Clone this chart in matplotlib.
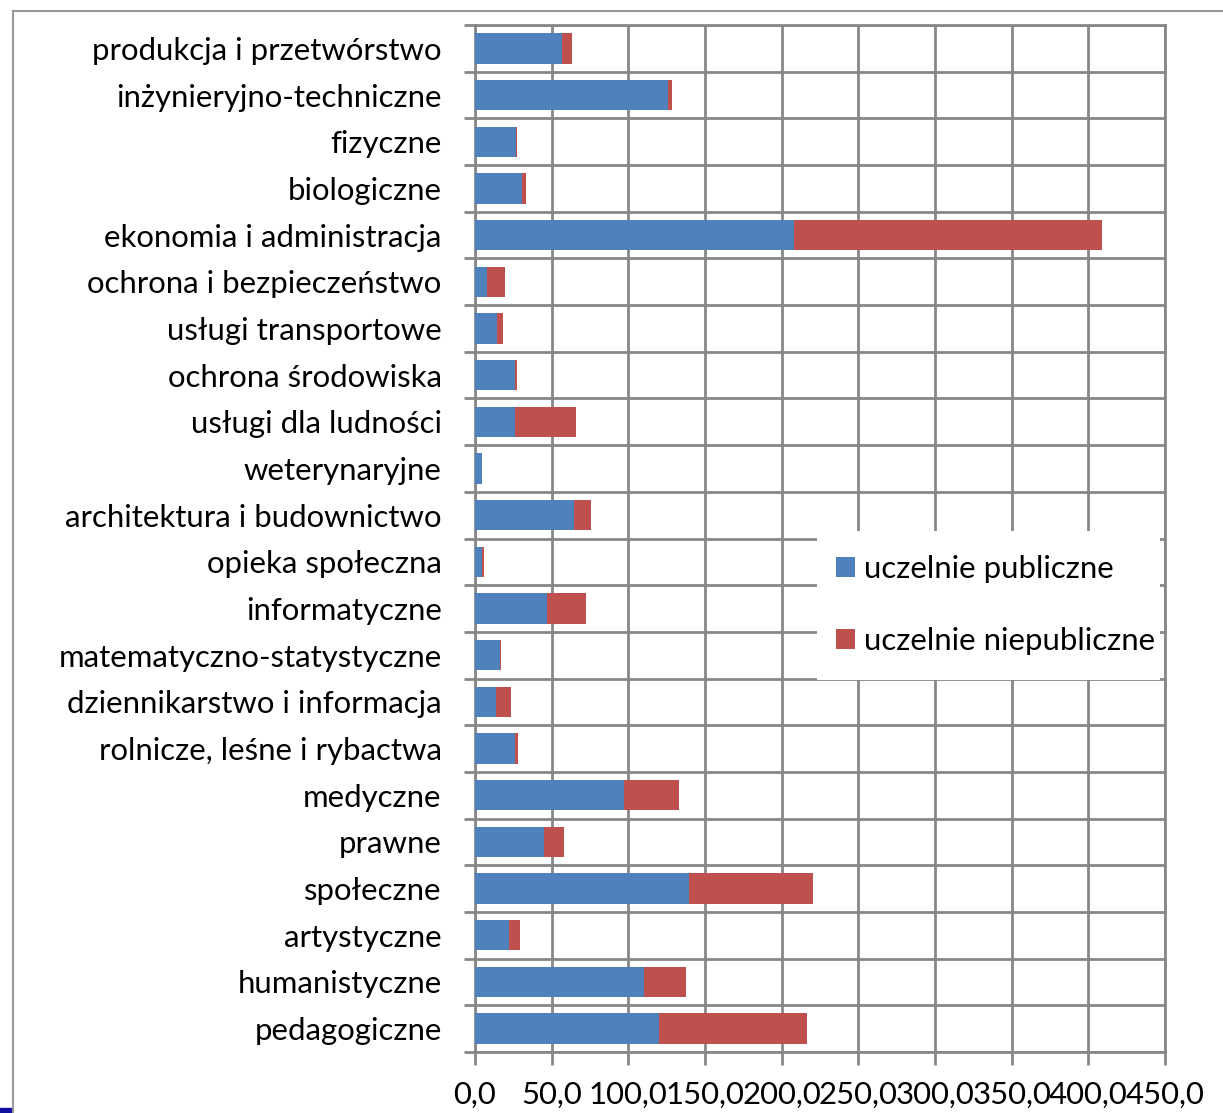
import numpy as np
import matplotlib.pyplot as plt
from matplotlib.lines import Line2D
from matplotlib.patches import Rectangle

plt.rcParams['font.family'] = ['Lato', 'DejaVu Sans']

categories = ['produkcja i przetwórstwo', 'inżynieryjno-techniczne', 'fizyczne',
              'biologiczne', 'ekonomia i administracja', 'ochrona i bezpieczeństwo',
              'usługi transportowe', 'ochrona środowiska', 'usługi dla ludności',
              'weterynaryjne', 'architektura i budownictwo', 'opieka społeczna',
              'informatyczne', 'matematyczno-statystyczne', 'dziennikarstwo i informacja',
              'rolnicze, leśne i rybactwa', 'medyczne', 'prawne', 'społeczne',
              'artystyczne', 'humanistyczne', 'pedagogiczne']
public = [56.7, 125.9, 26.5, 30.4, 207.8, 7.8, 14.6, 26.1, 26.3, 4.6, 64.8, 4.3,
          47.2, 16.5, 13.9, 26.3, 96.9, 45.2, 139.4, 22.4, 110.0, 119.8]
private = [6.6, 2.3, 0.6, 3.0, 200.9, 11.6, 3.9, 1.1, 39.8, 0.0, 11.1, 1.4,
           25.4, 0.3, 9.6, 1.5, 36.2, 12.9, 81.3, 7.0, 27.4, 97.0]
xticks = np.arange(0, 451, 50)
series_names = ['uczelnie publiczne', 'uczelnie niepubliczne']

blue = '#4F81BD'
red = '#C0504D'
grid_c = '#878787'
fs = 22.4

fig = plt.figure(figsize=(12.23, 11.13), dpi=100)
ax = fig.add_axes([475 / 1223, 1 - 1052 / 1113, 690 / 1223, 1027 / 1113])

y = np.arange(len(categories))
ax.barh(y, public, height=0.65, color=blue, label=series_names[0], zorder=3)
ax.barh(y, private, left=public, height=0.65, color=red, label=series_names[1], zorder=3)

ax.set_ylim(len(categories) - 0.5, -0.5)
ax.set_xlim(0, 450)
ax.set_yticks(y)
ax.set_yticklabels(categories, fontsize=fs)
ax.set_yticks(np.arange(-0.5, len(categories), 1), minor=True)
ax.tick_params(axis='y', which='major', length=0, pad=24)
ax.tick_params(axis='y', which='minor', length=8, width=2, color=grid_c)
ax.grid(axis='y', which='minor', color=grid_c, lw=2, zorder=1)

ax.set_xticks(xticks)
ax.set_xticklabels([f'{v:.1f}'.replace('.', ',') for v in xticks], fontsize=fs)
ax.tick_params(axis='x', length=9, width=2, color=grid_c, pad=12)
ax.grid(axis='x', which='major', color=grid_c, lw=2, zorder=1)

for s in ax.spines.values():
    s.set_color(grid_c)
    s.set_linewidth(2)

# white legend area that hides the grid
ax.add_patch(Rectangle((0.4957, 0.3622), 0.4971, 0.1451, transform=ax.transAxes,
                       facecolor='white', edgecolor='none', zorder=4))
leg = ax.legend(loc='upper left', bbox_to_anchor=((836 - 475) / 690, (1052 - 555) / 1027),
                fontsize=fs, frameon=False,
                handlelength=0.62, handleheight=0.62, handletextpad=0.28,
                labelspacing=1.42, borderpad=0, borderaxespad=0)
leg.set_zorder(5)

# slide frame around the chart
fig.add_artist(Line2D([13 / 1223, 1], [1 - 11 / 1113] * 2, color='#9a9a9a', lw=1.5))
fig.add_artist(Line2D([13 / 1223] * 2, [0, 1 - 11 / 1113], color='#9a9a9a', lw=1.5))
fig.add_artist(Rectangle((0, 0), 12 / 1223, 5 / 1113, color='#1010a0',
                         transform=fig.transFigure))

plt.savefig('out.png', dpi=100)
